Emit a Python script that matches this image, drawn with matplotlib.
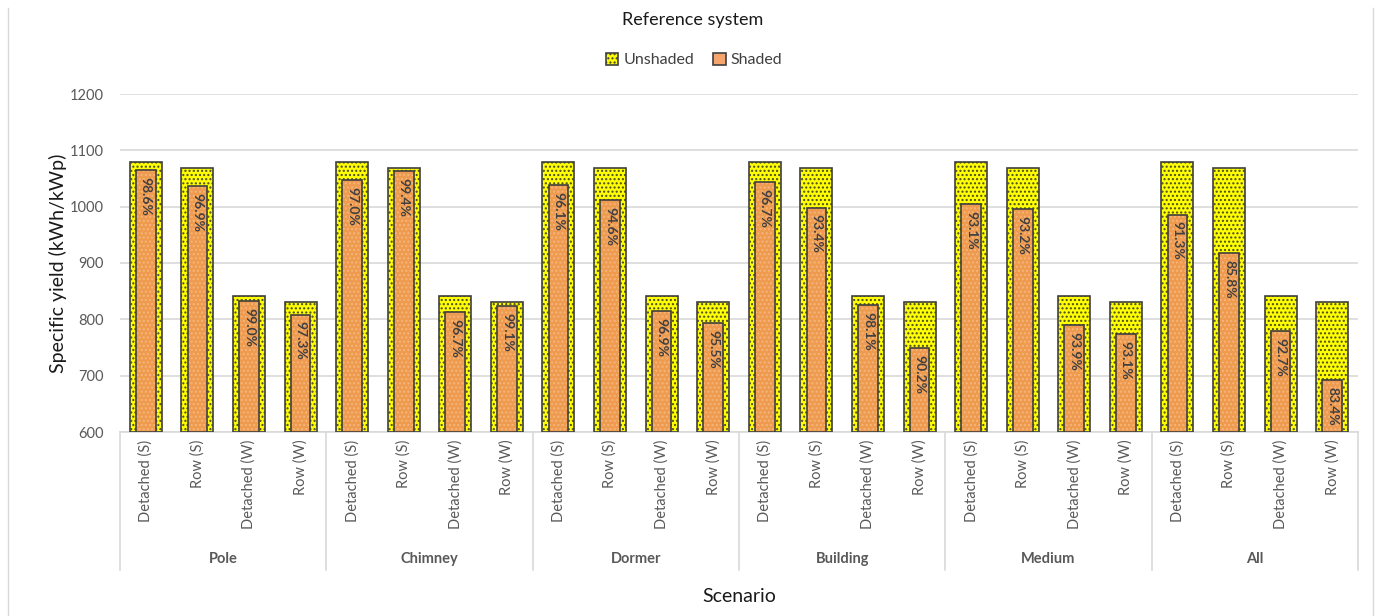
import matplotlib
matplotlib.use("Agg")
import matplotlib.pyplot as plt
from matplotlib.patches import Patch
from matplotlib.lines import Line2D

plt.rcParams['font.family'] = ['Lato', 'DejaVu Sans']
plt.rcParams['hatch.linewidth'] = 1.0

# Data
groups = ["Pole", "Chimney", "Dormer", "Building", "Medium", "All"]
categories = ["Detached (S)", "Row (S)", "Detached (W)", "Row (W)"]
unshaded = [1080, 1069, 841, 831]  # same reference yield in every group
shaded_pct = {
    "Pole":     [98.6, 96.9, 99.0, 97.3],
    "Chimney":  [97.0, 99.4, 96.7, 99.1],
    "Dormer":   [96.1, 94.6, 96.9, 95.5],
    "Building": [96.7, 93.4, 98.1, 90.2],
    "Medium":   [93.1, 93.2, 93.9, 93.1],
    "All":      [91.3, 85.8, 92.7, 83.4],
}
y_ticks = [600, 700, 800, 900, 1000, 1100, 1200]

W, H = 1378, 616
fig = plt.figure(figsize=(W / 100, H / 100), dpi=100)
ax = fig.add_axes([120 / W, 1 - 432 / H, (1358 - 120) / W, (432 - 94) / H])

YELLOW = "#FFFF00"
ORANGE = "#EE9A4F"
EDGE = "#3F3F3F"
GRID = "#D9D9D9"

n_cat = len(categories)
xs, unsh_vals, sh_vals, pcts, xlabels = [], [], [], [], []
for gi, g in enumerate(groups):
    for ci, c in enumerate(categories):
        x = gi * n_cat + ci
        xs.append(x)
        unsh_vals.append(unshaded[ci])
        pcts.append(shaded_pct[g][ci])
        sh_vals.append(unshaded[ci] * shaded_pct[g][ci] / 100.0)
        xlabels.append(c)

base = 600
wide, narrow = 0.62, 0.38

# Unshaded bars: dotted yellow fill, then outline
ax.bar(xs, [v - base for v in unsh_vals], bottom=base, width=wide,
       color=YELLOW, edgecolor="#4a4a2a", hatch="....", linewidth=0, zorder=2)
ax.bar(xs, [v - base for v in unsh_vals], bottom=base, width=wide,
       fill=False, edgecolor=EDGE, linewidth=1.2, zorder=3)
# Shaded bars: fine light dots on orange, then outline
ax.bar(xs, [v - base for v in sh_vals], bottom=base, width=narrow,
       color=ORANGE, edgecolor="#F5B67A", hatch="....", linewidth=0, zorder=4)
ax.bar(xs, [v - base for v in sh_vals], bottom=base, width=narrow,
       fill=False, edgecolor=EDGE, linewidth=1.2, zorder=5)

for x, v, p in zip(xs, sh_vals, pcts):
    ax.annotate(f"{p:.1f}%", xy=(x, v), xytext=(0, -5), textcoords="offset points",
                rotation=-90, ha="center", va="top", fontsize=10,
                fontweight="bold", color="#404040", zorder=6)

ax.set_xlim(-0.5, len(xs) - 0.5)
ax.set_ylim(600, 1200)
ax.set_yticks(y_ticks)
ax.set_yticklabels([str(t) for t in y_ticks], fontsize=10.5, color="#595959")
ax.tick_params(axis="y", length=0, pad=12)
ax.set_xticks([])
ax.yaxis.grid(True, color=GRID, linewidth=1.2, zorder=0)
ax.set_axisbelow(True)
for s in ["top", "right", "left"]:
    ax.spines[s].set_visible(False)
ax.spines["bottom"].set_color(GRID)
ax.spines["bottom"].set_linewidth(1.2)

trans = ax.get_xaxis_transform()
ax_h = 432 - 94
box_bottom = (432 - 570) / ax_h
# category labels
for x, lab in zip(xs, xlabels):
    ax.text(x, -0.022, lab, rotation=90, ha="center", va="top", fontsize=10.5,
            color="#595959", transform=trans, clip_on=False)
# group labels and separators
for gi, g in enumerate(groups):
    ax.text(gi * n_cat + (n_cat - 1) / 2, (432 - 559) / ax_h, g, ha="center",
            va="center", fontsize=10.5, fontweight="bold", color="#595959",
            transform=trans, clip_on=False)
for k in range(len(groups) + 1):
    xb = k * n_cat - 0.5
    ax.add_line(Line2D([xb, xb], [0, box_bottom], transform=trans, color=GRID,
                       linewidth=1.2, clip_on=False))

ax.set_ylabel("Specific yield (kWh/kWp)", fontsize=14, color="#1a1a1a")
ax.yaxis.set_label_coords((58 - 120) / (1358 - 120), (432 - 263) / ax_h)
ax.set_xlabel("Scenario", fontsize=14, color="#1a1a1a")
ax.xaxis.set_label_coords(0.5, (432 - 597) / ax_h)
ax.xaxis.label.set_va("center")
ax.yaxis.label.set_va("center")

fig.text(693 / W, 1 - 20 / H, "Reference system", ha="center", va="center",
         fontsize=13, color="#1a1a1a")

handles = [Patch(facecolor=YELLOW, edgecolor=EDGE, hatch="....", linewidth=1.2),
           Patch(facecolor="#F4A46C", edgecolor=EDGE, linewidth=1.2)]
fig.legend(handles, ["Unshaded", "Shaded"], loc="center", ncol=2,
           bbox_to_anchor=(694 / W, 1 - 60 / H), frameon=False, fontsize=11.5,
           handlelength=0.8, handleheight=0.8, handletextpad=0.3, columnspacing=1.2,
           labelcolor="#404040")

# outer chart frame edges
for xe in (8, 1373):
    fig.add_artist(Line2D([xe / W, xe / W], [0, 1 - 8 / H], transform=fig.transFigure,
                          color=GRID, linewidth=1.0))

fig.savefig("out.png", dpi=100)
